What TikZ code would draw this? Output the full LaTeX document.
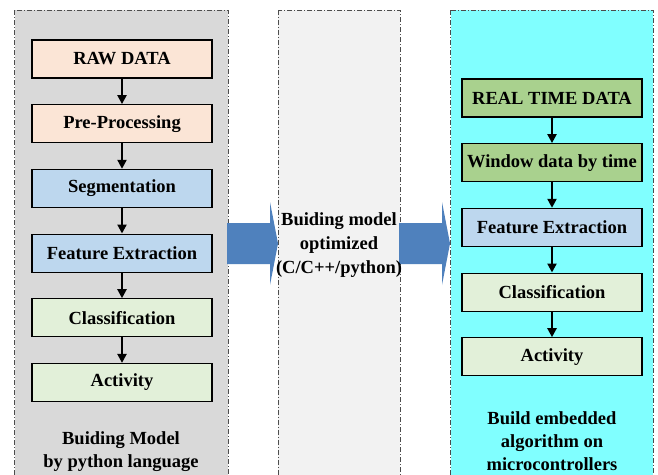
\documentclass[tikz,border=0pt]{standalone}
\usepackage{fontspec}
\setmainfont{Liberation Serif}
\usetikzlibrary{positioning,arrows.meta}
\definecolor{leftgray}{HTML}{D9D9D9}
\definecolor{midgray}{HTML}{F2F2F2}
\definecolor{rightcyan}{HTML}{80FFFF}
\definecolor{peach}{HTML}{FBE5D6}
\definecolor{lblue}{HTML}{BDD7EE}
\definecolor{lgreen}{HTML}{E2F0D9}
\definecolor{dgreen}{HTML}{A9D18E}
\definecolor{arrblue}{HTML}{4F81BD}
\begin{document}
\begin{tikzpicture}[x=1pt,y=-1pt,
        font=\fontsize{18.5}{23}\selectfont\bfseries,
        node distance=25.5pt,
        panel/.style={draw=gray!60!black,line width=0.7pt,
          dash pattern=on 5pt off 2pt on 1pt off 2pt},
        box/.style={draw,line width=1.2pt,minimum width=180pt,minimum height=38pt,inner sep=2pt},
        flow/.style={line width=2.2pt,-{Triangle[width=9pt,length=9pt]}},
        bigarrow/.style={fill=arrblue}]
    \clip (0,0) rectangle (658,474);
    \fill[white] (0,0) rectangle (658,474);
    % panels
    \draw[panel,fill=leftgray] (14.5,10) rectangle (228,490);
    \draw[panel,fill=midgray] (278,10) rectangle (400,490);
    \draw[panel,fill=rightcyan] (450.5,10) rectangle (653,490);
    % big arrows
    \fill[bigarrow] (227,223) -- (270,223) -- (270,202) -- (278,243.5)
        -- (270,285) -- (270,264) -- (227,264) -- cycle;
    \fill[bigarrow] (399,223) -- (442,223) -- (442,202) -- (450,243.5)
        -- (442,285) -- (442,264) -- (399,264) -- cycle;
    % python side
    \node[box,fill=peach] (raw) at (122,59) {RAW DATA};
    \node[box,fill=peach,below=of raw] (pre) {Pre-Processing};
    \node[box,fill=lblue,below=of pre] (seg) {Segmentation};
    \node[box,fill=lblue,below=of seg] (feat) {Feature Extraction};
    \node[box,fill=lgreen,below=of feat] (cls) {Classification};
    \node[box,fill=lgreen,below=of cls] (act) {Activity};
    \node[align=center] (lefttxt) at (121,452) {Buiding Model\\by python language};
    % optimized model
    \node[align=center,inner sep=0pt,font=\fontsize{18.5}{24}\selectfont\bfseries]
        (midtxt) at (339,245) {Buiding model\\optimized\\(C/C++/python)};
    % microcontroller side
    \node[box,fill=dgreen] (rtd) at (552,98) {REAL TIME DATA};
    \node[box,fill=dgreen,below=of rtd] (win) {Window data by time};
    \node[box,fill=lblue,below=of win] (rfeat) {Feature Extraction};
    \node[box,fill=lgreen,below=of rfeat] (rcls) {Classification};
    \node[box,fill=lgreen,below=of rcls] (ract) {Activity};
    \node[align=center] (righttxt) at (552,441) {Build embedded\\algorithm on\\microcontrollers};
    \foreach \a/\b in {raw/pre,pre/seg,seg/feat,feat/cls,cls/act,
        rtd/win,win/rfeat,rfeat/rcls,rcls/ract}
      \draw[flow] (\a) -- (\b);
\end{tikzpicture}
\end{document}
